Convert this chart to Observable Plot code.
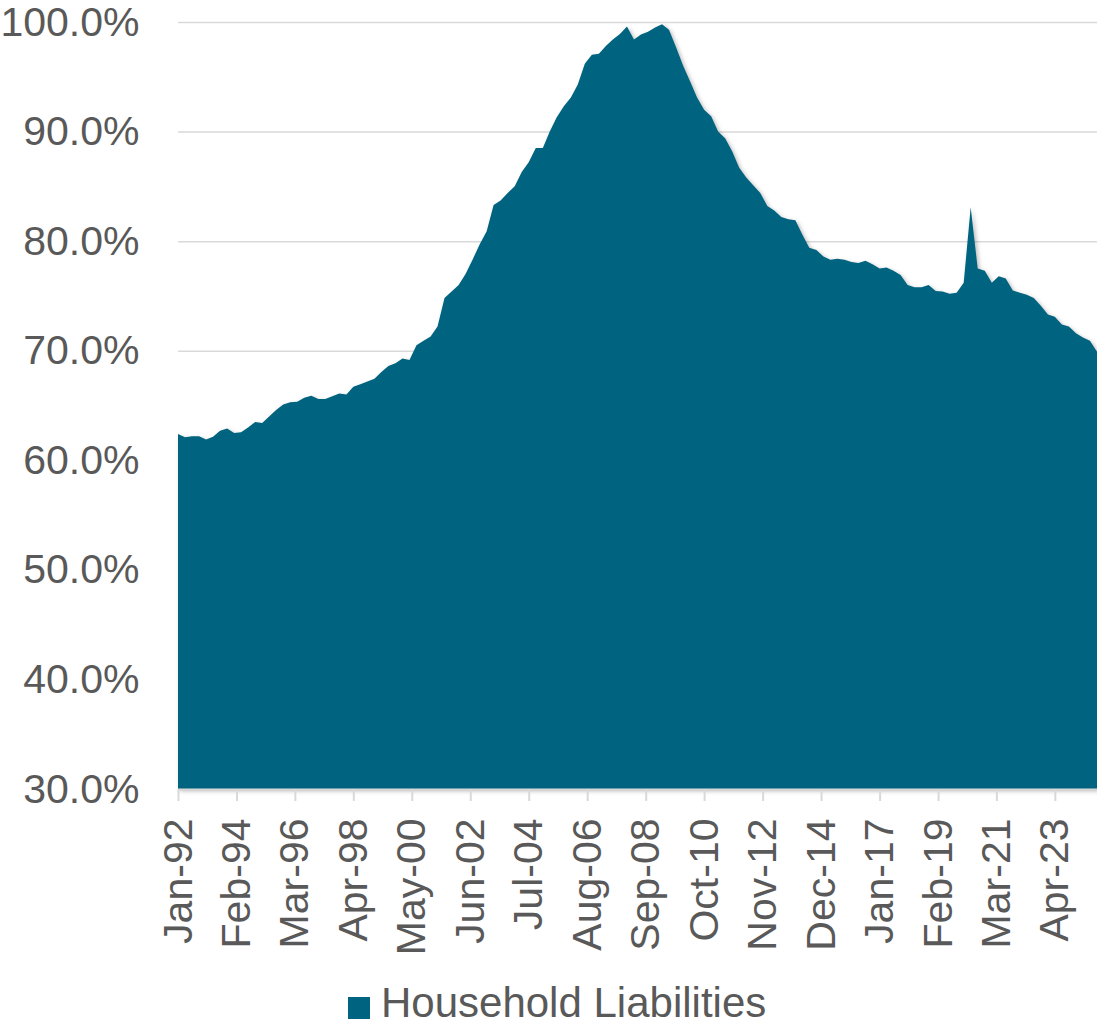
<!DOCTYPE html>
<html>
<head>
<meta charset="utf-8">
<script src="https://cdn.jsdelivr.net/npm/d3@7"></script>
<script src="https://cdn.jsdelivr.net/npm/@observablehq/plot@0.6"></script>
<style>
  html, body { margin: 0; padding: 0; background: #fff; }
  #wrap { position: relative; width: 1097px; height: 1026px; overflow: hidden; font-family: "Liberation Sans", Arial, sans-serif; }
  #legend-sw { position: absolute; left: 348px; top: 997px; width: 22px; height: 22px; background: #00637f; }
  #legend-tx { position: absolute; left: 381px; top: 982px; font-size: 42px; line-height: 1; color: #595959; white-space: nowrap; }
</style>
</head>
<body>
<div id="wrap">
  <div id="chart"></div>
  <div id="legend-sw"></div>
  <div id="legend-tx"></div>
</div>
<script>
// Quarterly series, Household Liabilities (%), 1992Q1 .. 2024Q4
const startQuarter = "1992-01-01";
const values1990s = [
  62.4, 62.1, 62.2, 62.2,   // 1992
  61.9, 62.15, 62.7, 62.9,  // 1993
  62.5, 62.55, 63.0, 63.5,  // 1994
  63.4, 64.0, 64.6, 65.1,   // 1995
  65.3, 65.35, 65.7, 65.9,  // 1996
  65.6, 65.6, 65.85, 66.1,  // 1997
  66.0, 66.7, 66.95, 67.2,  // 1998
  67.45, 68.05, 68.6, 68.85 // 1999
];
const values2000s = [
  69.3, 69.15, 70.5, 70.9,  // 2000
  71.3, 72.2, 74.8, 75.4,   // 2001
  76.0, 77.0, 78.3, 79.7,   // 2002
  80.9, 83.3, 83.7, 84.4,   // 2003
  85.0, 86.3, 87.2, 88.5,   // 2004
  88.5, 90.0, 91.3, 92.3,   // 2005
  93.1, 94.3, 96.2, 97.0,   // 2006
  97.1, 97.8, 98.4, 98.9,   // 2007
  99.6, 98.4, 98.85, 99.1,  // 2008
  99.5, 99.8, 99.3, 97.7    // 2009
];
const values2010s = [
  96.0, 94.6, 93.1, 92.0,   // 2010
  91.4, 90.0, 89.4, 88.2,   // 2011
  86.7, 85.8, 85.1, 84.4,   // 2012
  83.2, 82.8, 82.2, 82.0,   // 2013
  81.9, 80.6, 79.4, 79.2,   // 2014
  78.6, 78.3, 78.4, 78.3,   // 2015
  78.1, 78.0, 78.2, 77.9,   // 2016
  77.5, 77.6, 77.3, 76.9,   // 2017
  76.0, 75.8, 75.8, 76.0,   // 2018
  75.45, 75.4, 75.2, 75.3   // 2019
];
const values2020s = [
  76.2, 83.1, 77.5, 77.3,   // 2020
  76.2, 76.8, 76.6, 75.5,   // 2021
  75.3, 75.1, 74.8, 74.1,   // 2022
  73.3, 73.1, 72.4, 72.2,   // 2023
  71.6, 71.2, 70.9, 69.9    // 2024
];
const xTickLabels = ["Jan-92","Feb-94","Mar-96","Apr-98","May-00","Jun-02","Jul-04","Aug-06",
                     "Sep-08","Oct-10","Nov-12","Dec-14","Jan-17","Feb-19","Mar-21","Apr-23"];
const yTickValues = [30, 40, 50, 60, 70, 80, 90, 100];
const seriesName = "Household Liabilities";

const allValues = [...values1990s, ...values2000s, ...values2010s, ...values2020s];
const start = new Date(startQuarter + "T00:00:00Z");
const data = allValues.map((v, i) => ({date: d3.utcMonth.offset(start, 3 * i), value: v}));
const parseTick = d3.utcParse("%b-%y");
const xTicks = xTickLabels.map(parseTick);
const end = data[data.length - 1].date;

const W = 1097, H = 965;
const chart = Plot.plot({
  width: W,
  height: H,
  marginLeft: 178,
  marginRight: 0,
  marginTop: 22,
  marginBottom: H - 789,
  style: {fontFamily: "'Liberation Sans', Arial, sans-serif", background: "#fff", color: "#595959", overflow: "visible"},
  x: {type: "utc", domain: [start, end], label: null},
  y: {domain: [30, 100], label: null},
  marks: [
    Plot.gridY(yTickValues, {stroke: "#d9d9d9", strokeOpacity: 1, strokeWidth: 1.5}),
    Plot.areaY(data, {x: "date", y1: 30, y2: "value", fill: "#00637f", curve: "linear"}),
    Plot.ruleY([30], {stroke: "#d9d9d9", strokeWidth: 2}),
    Plot.axisY(yTickValues, {tickSize: 0, tickPadding: 39, fontSize: 41, fill: "#595959", label: null,
      tickFormat: d => d.toFixed(1) + "%"}),
    Plot.axisX(xTicks, {tickSize: 12, tickPadding: 17, tickRotate: -90, fontSize: 41, label: null,
      stroke: "#d9d9d9", strokeWidth: 2, strokeOpacity: 1, fill: "#595959",
      tickFormat: d3.utcFormat("%b-%y")})
  ]
});
document.getElementById("chart").appendChild(chart);
document.getElementById("legend-tx").textContent = seriesName;
const areaPath = chart.querySelector("g[aria-label='area'] path");
if (areaPath) areaPath.style.filter = "drop-shadow(2px 2px 2px rgba(0,0,0,0.28))";
</script>
</body>
</html>
